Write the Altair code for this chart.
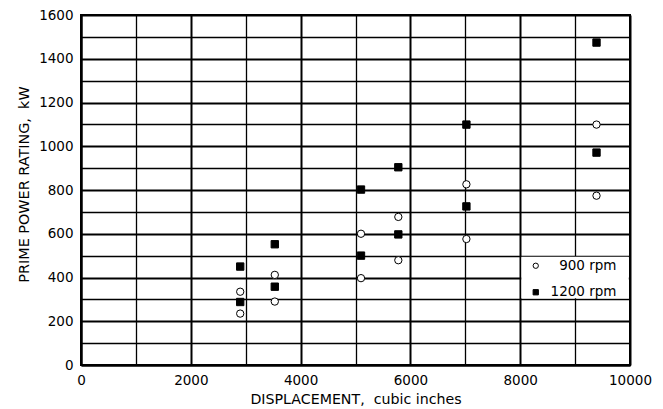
import altair as alt
import pandas as pd

# ---- data ----
displacement = [2900, 2900, 3530, 3530, 5100, 5100, 5780, 5780, 7020, 7020, 9390, 9390]
kw_900 = [235, 335, 290, 412, 397, 600, 479, 677, 576, 826, 774, 1099]
kw_1200 = [288, 450, 358, 552, 500, 802, 597, 904, 725, 1099, 971, 1474]
series = ["900 rpm", "1200 rpm"]

x_ticks = list(range(0, 10001, 1000))
y_ticks = list(range(0, 1601, 100))

# grid cell that holds the legend (data units)
legend_cell = pd.DataFrame({"disp": [8000], "disp2": [10000], "kw": [300], "kw2": [500]})

rows = []
for d, v in zip(displacement, kw_900):
    rows.append({"disp": d, "kw": v, "speed": series[0]})
for d, v in zip(displacement, kw_1200):
    rows.append({"disp": d, "kw": v, "speed": series[1]})
df = pd.DataFrame(rows)

FONT = "DejaVu Sans"
NB = "\u00a0"

x_scale = alt.Scale(domain=[0, 10000], nice=False, zero=True)
y_scale = alt.Scale(domain=[0, 1600], nice=False, zero=True)

x_axis = alt.Axis(
    title="DISPLACEMENT," + NB + NB + "cubic inches",
    values=x_ticks,
    format="d",
    labelExpr="datum.value % 2000 === 0 ? datum.label : ''",
    grid=True,
    gridColor="black",
    gridOpacity=1,
    gridWidth={"condition": {"test": "datum.value % 2000 === 0", "value": 2}, "value": 1.3},
    tickSize=0,
    domainColor="black",
    domainWidth=2,
    labelFont=FONT,
    labelFontSize=13.5,
    labelColor="black",
    labelPadding=8,
    labelFlush=False,
    titleFont=FONT,
    titleFontSize=14.2,
    titleFontWeight="normal",
    titleColor="black",
    titlePadding=6,
)

y_axis = alt.Axis(
    title="PRIME POWER RATING," + NB + NB + "kW",
    values=y_ticks,
    format="d",
    labelExpr="datum.value % 200 === 0 ? datum.label : ''",
    grid=True,
    gridColor="black",
    gridOpacity=1,
    gridWidth={"condition": {"test": "datum.value % 200 === 0", "value": 2}, "value": 1.3},
    tickSize=0,
    domainColor="black",
    domainWidth=2,
    labelFont=FONT,
    labelFontSize=13.5,
    labelColor="black",
    labelPadding=8,
    labelFlush=False,
    titleFont=FONT,
    titleFontSize=14.4,
    titleFontWeight="normal",
    titleColor="black",
    titlePadding=7.5,
    titleY=169,
)

legend_opts = dict(
    title=None,
    orient="none",
    legendX=448,
    legendY=244,
    padding=0,
    symbolSize=28,
    symbolStrokeColor="black",
    symbolStrokeWidth=1,
    labelFont=FONT,
    labelFontSize=13.5,
    labelColor="black",
    labelAlign="right",
    labelOffset=74,
    rowPadding=11.5,
)

points = alt.Chart(df).mark_point(strokeWidth=1, opacity=1, size=54).encode(
    x=alt.X("disp:Q", scale=x_scale, axis=x_axis),
    y=alt.Y("kw:Q", scale=y_scale, axis=y_axis),
    shape=alt.Shape(
        "speed:N",
        scale=alt.Scale(domain=series, range=["circle", "square"]),
        legend=alt.Legend(**legend_opts),
    ),
    fill=alt.Fill(
        "speed:N",
        scale=alt.Scale(domain=series, range=["white", "black"]),
        legend=alt.Legend(**legend_opts),
    ),
    stroke=alt.Stroke(
        "speed:N",
        scale=alt.Scale(domain=series, range=["black", "black"]),
        legend=alt.Legend(**legend_opts),
    ),
)

# white background cell behind the legend
legend_bg = alt.Chart(legend_cell).mark_rect(
    fill="white", xOffset=1.2, x2Offset=-1.2, yOffset=-1.2, y2Offset=1.2
).encode(
    x=alt.X("disp:Q", scale=x_scale, axis=x_axis),
    x2="disp2:Q",
    y=alt.Y("kw:Q", scale=y_scale, axis=y_axis),
    y2="kw2:Q",
)

chart = (
    alt.layer(legend_bg, points)
    .properties(
        width=549,
        height=350,
        padding={"left": 81, "top": 15, "right": 33, "bottom": 44},
        autosize=alt.AutoSizeParams(type="none"),
        background="white",
    )
    .configure_view(stroke="black", strokeWidth=2)
)

chart.save("out.html", embed_options={"renderer": "svg", "actions": False})
